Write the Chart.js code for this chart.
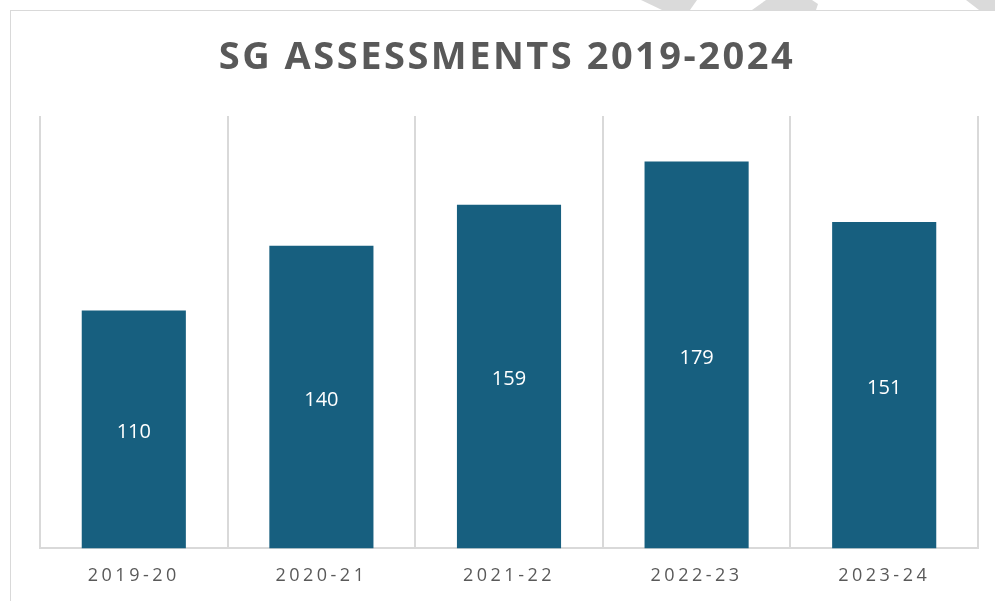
<!DOCTYPE html>
<html>
<head>
<meta charset="utf-8">
<script src="https://cdn.jsdelivr.net/npm/chart.js@4"></script>
<style>
  html, body { margin: 0; padding: 0; background: #ffffff; }
  #wrap { position: relative; width: 995px; height: 601px; overflow: hidden; background: #ffffff; }
  .frame { position: absolute; left: 10px; top: 10px; width: 1000px; height: 620px; border: 1px solid #D9D9D9; box-sizing: border-box; }
  .mark { position: absolute; left: 0; top: 0; width: 995px; height: 10px; background: #DADADA; }
  #c { position: absolute; left: 0; top: 0; }
</style>
</head>
<body>
<div id="wrap">
  <div class="mark" style="clip-path: polygon(641px 0, 697px 0, 690px 10px, 662px 10px);"></div>
  <div class="mark" style="clip-path: polygon(766px 0, 812px 0, 818px 4px, 816px 10px, 752px 10px);"></div>
  <div class="mark" style="clip-path: polygon(966px 0, 995px 0, 995px 10px, 979px 10px);"></div>
  <div class="frame"></div>
  <canvas id="c" width="995" height="601"></canvas>
</div>
<script>
const chartTitle = 'SG ASSESSMENTS 2019-2024';
const categories = ['2019-20', '2020-21', '2021-22', '2022-23', '2023-24'];
const assessments = [110, 140, 159, 179, 151];

const titlePlugin = {
  id: 'customTitle',
  beforeDraw(chart) {
    chart.ctx.letterSpacing = '3.5px';
  },
  afterDatasetsDraw(chart) {
    const ctx = chart.ctx;
    const meta = chart.getDatasetMeta(0);
    ctx.save();
    ctx.letterSpacing = '0px';
    ctx.font = '20px "Open Sans"';
    ctx.fillStyle = '#FFFFFF';
    ctx.textAlign = 'center';
    ctx.textBaseline = 'middle';
    meta.data.forEach((bar, i) => {
      const y = (bar.y + bar.base) / 2 + 3;
      ctx.fillText(String(assessments[i]), bar.x, y);
    });
    ctx.restore();
  },
  afterDraw(chart) {
    const ctx = chart.ctx;
    ctx.save();
    ctx.letterSpacing = '2.5px';
    ctx.font = 'bold 38px "Open Sans"';
    ctx.fillStyle = '#595959';
    ctx.textAlign = 'center';
    ctx.textBaseline = 'middle';
    ctx.fillText(chartTitle, 507, 58);
    ctx.restore();
  }
};

new Chart(document.getElementById('c'), {
  type: 'bar',
  data: {
    labels: categories,
    datasets: [{
      data: assessments,
      backgroundColor: '#175F7F',
      borderWidth: 0,
      categoryPercentage: 1,
      barPercentage: 0.555
    }]
  },
  options: {
    responsive: false,
    animation: false,
    devicePixelRatio: 1,
    layout: { padding: { left: 40, right: 17, top: 116, bottom: -3 } },
    plugins: { legend: { display: false }, tooltip: { enabled: false }, title: { display: false } },
    scales: {
      x: {
        offset: true,
        grid: { display: true, offset: true, color: '#D9D9D9', lineWidth: 2, drawTicks: false },
        border: { display: true, color: '#D9D9D9', width: 2 },
        ticks: { color: '#595959', font: { family: '"Open Sans"', size: 18 }, padding: 17, autoSkip: false, maxRotation: 0 }
      },
      y: {
        display: false,
        min: 0,
        max: 200
      }
    }
  },
  plugins: [titlePlugin]
});
</script>
</body>
</html>
